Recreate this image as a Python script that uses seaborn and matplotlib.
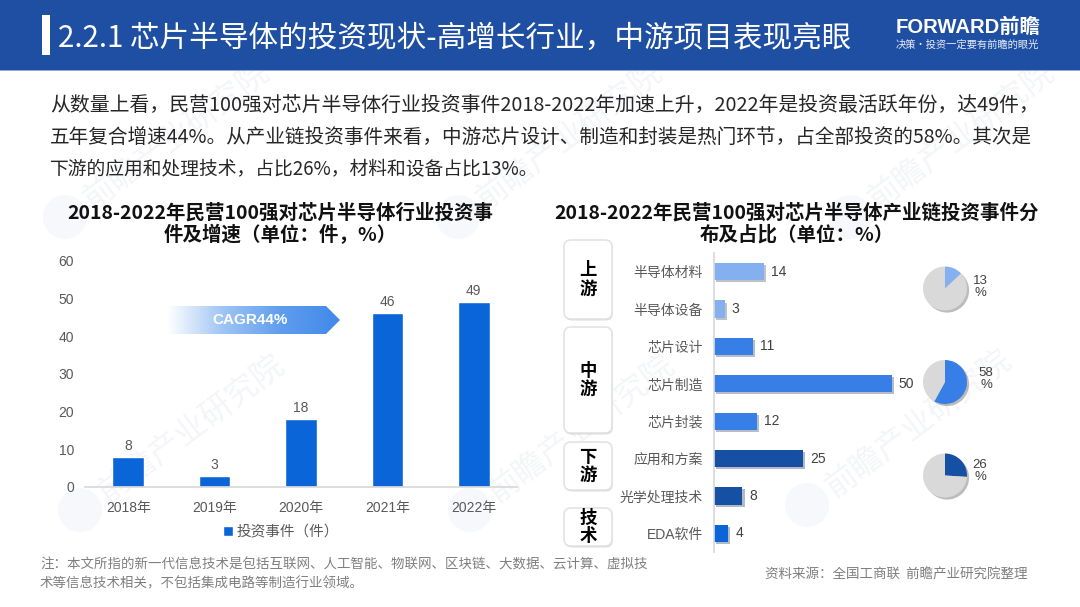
import numpy as np
import pandas as pd
import matplotlib
matplotlib.use("Agg")
import matplotlib.pyplot as plt
import matplotlib.patheffects as pe
from matplotlib.colors import LinearSegmentedColormap
from matplotlib.patches import Circle, FancyBboxPatch, Polygon, Rectangle
import seaborn as sns

# Data
years = ["2018年", "2019年", "2020年", "2021年", "2022年"]
events = [8, 3, 18, 46, 49]

items = ["半导体材料", "半导体设备", "芯片设计", "芯片制造", "芯片封装", "应用和方案", "光学处理技术", "EDA软件"]
item_counts = [14, 3, 11, 50, 12, 25, 8, 4]
item_stages = ["上游", "上游", "中游", "中游", "中游", "下游", "下游", "技术"]
stage_colors = {"上游": "#85B0F0", "中游": "#377FE6", "下游": "#1650A5", "技术": "#0A66D8"}

pie_shares = [13, 58, 26]
pie_colors = ["#85B0F0", "#377FE6", "#1650A5"]

title = "2.2.1 芯片半导体的投资现状-高增长行业，中游项目表现亮眼"
body_lines = [
    "从数量上看，民营100强对芯片半导体行业投资事件2018-2022年加速上升，2022年是投资最活跃年份，达49件，",
    "五年复合增速44%。从产业链投资事件来看，中游芯片设计、制造和封装是热门环节，占全部投资的58%。其次是",
    "下游的应用和处理技术，占比26%，材料和设备占比13%。",
]
note_lines = [
    "注：本文所指的新一代信息技术是包括互联网、人工智能、物联网、区块链、大数据、云计算、虚拟技",
    "术等信息技术相关，不包括集成电路等制造行业领域。",
]

sns.set_theme(style="white")
cjk = ["Noto Sans CJK SC", "DejaVu Sans"]
arial = ["Liberation Sans", "Noto Sans CJK SC"]
plt.rcParams["font.family"] = arial

W, H = 1080, 607
GREY = "#595959"
fig = plt.figure(figsize=(W / 100, H / 100), dpi=100, facecolor="white")


def px_axes(left, top, right, bottom, **kw):
    return fig.add_axes([left / W, 1 - bottom / H, (right - left) / W, (bottom - top) / H], **kw)


# Page background in pixel coordinates
bg = px_axes(0, 0, W, H, zorder=0)
bg.set_xlim(0, W)
bg.set_ylim(H, 0)
bg.axis("off")

# Watermark
for wx, wy in [(65, 217), (458, 217), (850, 217), (80, 510), (470, 510), (807, 505)]:
    bg.add_patch(Circle((wx, wy), 22, color="#F6F8FB", lw=0, zorder=0.4))
    bg.text(wx + 22, wy - 14, "前瞻产业研究院", fontsize=23, color="#F3F5F8", family=cjk, zorder=0.5,
            rotation=37, rotation_mode="anchor", ha="left", va="center")

# Header
bg.add_patch(Rectangle((0, 0), W, 70, color="#1F4FA3", lw=0, zorder=3))
bg.add_patch(Rectangle((0, 70), W, 1, color="#8FA8D4", lw=0, zorder=3))
bg.add_patch(Rectangle((42, 15), 8, 40, color="white", lw=0, zorder=4))
bg.text(58, 38, title, fontsize=21.3, color="white", family=cjk, va="center", ha="left", zorder=4)
bg.text(896, 27, "FORWARD前瞻", fontsize=14.6, color="white", family=arial, weight="bold", va="center", zorder=4)
bg.text(896, 45, "决策·投资一定要有前瞻的眼光", fontsize=7.4, color="#E8EDF6", family=cjk, va="center", zorder=4)

for y, line, size in zip([105, 137, 169], body_lines, [14.3, 14.1, 13.5]):
    bg.text(50, y, line, fontsize=size, color="#262626", family=cjk, va="center", ha="left")

bg.text(280, 224, "2018-2022年民营100强对芯片半导体行业投资事\n件及增速（单位：件，%）", fontsize=14,
        color="#111111", family=cjk, weight="bold", ha="center", va="center", linespacing=1.12)
bg.text(797, 224, "2018-2022年民营100强对芯片半导体产业链投资事件分\n布及占比（单位：%）", fontsize=14,
        color="#111111", family=cjk, weight="bold", ha="center", va="center", linespacing=1.12)

for y, line in zip([565, 583], note_lines):
    bg.text(40, y, line, fontsize=9.7, color="#7F7F7F", family=cjk, va="center", ha="left")
bg.text(765, 575, "资料来源：全国工商联  前瞻产业研究院整理", fontsize=9.75, color="#7F7F7F", family=cjk, va="center")

# CAGR arrow with gradient
arrow = Polygon([(167, 306), (326, 306), (340, 320), (326, 334), (167, 334)], closed=True, color="none", lw=0)
bg.add_patch(arrow)
ramp = LinearSegmentedColormap.from_list("ramp", ["#FFFFFF", "#9CC3F4", "#5E9DEE", "#4189EA"])
grad = bg.imshow(np.linspace(0, 1, 256).reshape(1, -1), cmap=ramp, extent=(167, 340, 334, 306), aspect="auto", zorder=2)
grad.set_clip_path(arrow)
bg.set_xlim(0, W)
bg.set_ylim(H, 0)
bg.text(250, 320, "CAGR44%", fontsize=11, color="white", weight="bold", family=arial, ha="center", va="center", zorder=3)

# Stage boxes
boxes = [(240, 319, "上\n游"), (327, 433, "中\n游"), (442, 490, "下\n游"), (508, 546, "技\n术")]
for top, bottom, label in boxes:
    box = FancyBboxPatch((564, top), 48, bottom - top, boxstyle="round,pad=0,rounding_size=7",
                         mutation_aspect=1, fc="white", ec="#E3E3E3", lw=1.2, zorder=2)
    box.set_path_effects([pe.SimplePatchShadow(offset=(0.5, -1), alpha=0.25), pe.Normal()])
    bg.add_patch(box)
    bg.text(588, (top + bottom) / 2, label, fontsize=12.5, color="black", family=cjk, weight="bold",
            ha="center", va="center", linespacing=1.05, zorder=3)

# Left chart
df_years = pd.DataFrame({"year": years, "events": events})
ax1 = px_axes(85, 260.5, 517, 487, zorder=2)
ax1.patch.set_alpha(0)
sns.barplot(data=df_years, x="year", y="events", color="#0A66D8", saturation=1, width=0.367,
            label="投资事件（件）", ax=ax1)
ax1.set_ylim(0, 60)
ax1.set_yticks(range(0, 61, 10))
ax1.set_xlabel("")
ax1.set_ylabel("")
ax1.tick_params(axis="both", length=0, labelcolor=GREY, labelsize=10)
ax1.tick_params(axis="y", pad=8)
ax1.tick_params(axis="x", pad=10)
sns.despine(ax=ax1, left=True)
ax1.spines["bottom"].set_color("#D9D9D9")
ax1.bar_label(ax1.containers[0], padding=3, fontsize=10, color=GREY)
ax1.legend(loc="center", bbox_to_anchor=(281 / W, 1 - 532 / H), bbox_transform=fig.transFigure, frameon=False,
           handlelength=0.7, handleheight=0.7, handletextpad=0.2, labelcolor=GREY, fontsize=10.5)

# Right chart
df_items = pd.DataFrame({"item": items, "count": item_counts, "stage": item_stages})
ax2 = px_axes(714, 253, 914, 552, zorder=2)
ax2.patch.set_alpha(0)
sns.barplot(data=df_items, y="item", x="count", hue="stage", palette=stage_colors, saturation=1,
            dodge=False, width=0.46, legend=False, ax=ax2)
ax2.set_xlim(0, 56.27)
ax2.set_xlabel("")
ax2.set_ylabel("")
ax2.set_xticks([])
ax2.tick_params(axis="y", length=0, labelcolor=GREY, labelsize=10, pad=8)
sns.despine(ax=ax2, bottom=True)
ax2.spines["left"].set_color("#D9D9D9")
for container in ax2.containers:
    ax2.bar_label(container, padding=5, fontsize=10, color="#404040")
    for bar in container:
        bar.set_linewidth(0)
        bar.set_path_effects([pe.SimplePatchShadow(offset=(1.5, -1.5), alpha=0.3), pe.Normal()])

# Share pies, one shadow disc behind each
pie_centres = [(945, 288.5), (945, 382), (945, 475.5)]
label_pos = [(980, 286.5), (986, 379.5), (980, 470.5)]
for share, colour, (cx, cy), (lx, ly) in zip(pie_shares, pie_colors, pie_centres, label_pos):
    ax_pie = px_axes(cx - 30, cy - 30, cx + 30, cy + 30, zorder=3)
    ax_pie.pie([share, 100 - share], colors=[colour, "#D9D9D9"], startangle=90, counterclock=False,
               wedgeprops={"lw": 0})
    disc = Circle((0, 0), 1, fc="#D9D9D9", lw=0, zorder=0)
    disc.set_path_effects([pe.SimplePatchShadow(offset=(1.5, -1.5), alpha=0.35)])
    ax_pie.add_patch(disc)
    ax_pie.set_xlim(-30 / 22, 30 / 22)
    ax_pie.set_ylim(-30 / 22, 30 / 22)
    bg.text(lx, ly, f"{share}\n%", fontsize=9.5, color="#404040", ha="center", va="center", linespacing=1.0, zorder=4)

fig.savefig("out.png", dpi=100)
